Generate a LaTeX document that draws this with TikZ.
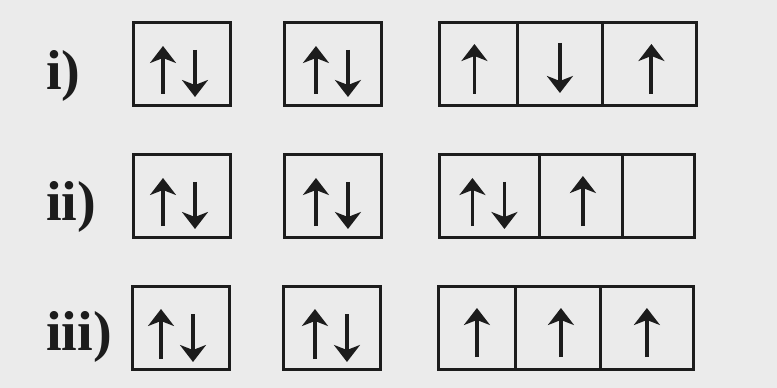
\documentclass[tikz,border=0pt]{standalone}
\usepackage{fontspec}
\setmainfont{Liberation Serif}
\usepackage{tikz}
\usetikzlibrary{positioning, arrows.meta, calc}

\definecolor{paper}{HTML}{EBEBEB}
\definecolor{ink}{HTML}{1C1C1C}

\begin{document}
\begin{tikzpicture}[
			x=0.02cm, y=-0.02cm,
			node distance=0pt and 1.08cm,
			orbital/.style={rectangle, draw=ink, line width=1.8pt, minimum width=1.94cm, minimum height=1.66cm, inner sep=0pt, outer sep=0pt},
			cell/.style={orbital, minimum width=#1},
			spin/.style={draw=ink, line width=2.2pt, -{Stealth[length=0.34cm, width=0.52cm, inset=0.1cm]}},
			rowlabel/.style={anchor=base west, text=ink, font=\fontsize{32}{38}\selectfont\bfseries}
			]
			
			% Background
			\fill[paper] (0,0) rectangle (777,388);
			
			% Labels
			\node[rowlabel] (l1) at (40,90) {i)};
			\node[rowlabel] (l2) at (40,220) {ii)};
			\node[rowlabel] (l3) at (40,350) {iii)};
			
			% Row i
			\node[orbital] (a1) at (182,64) {};
			\node[orbital, right=of a1] (b1) {};
			\node[cell=1.56cm, right=1.16cm of b1] (c1) {};
			\node[cell=1.7cm, right=0pt of c1] (d1) {};
			\node[cell=1.88cm, right=0pt of d1] (e1) {};
			
			% Row ii
			\node[orbital] (a2) at (182,196) {};
			\node[orbital, right=of a2] (b2) {};
			\node[cell=2cm, right=1.16cm of b2] (c2) {};
			\node[cell=1.66cm, right=0pt of c2] (d2) {};
			\node[cell=1.44cm, right=0pt of d2] (e2) {};
			
			% Row iii
			\node[orbital] (a3) at (181,328) {};
			\node[orbital, right=of a3] (b3) {};
			\node[cell=1.54cm, right=1.16cm of b3] (c3) {};
			\node[cell=1.7cm, right=0pt of c3] (d3) {};
			\node[cell=1.86cm, right=0pt of d3] (e3) {};
			
			% Spins, row i
			\draw[spin] ($(a1)+(-19,30)$) -- ($(a1)+(-19,-18)$);
			\draw[spin] ($(a1)+(13,-14)$) -- ($(a1)+(13,33)$);
			\draw[spin] ($(b1)+(-17,30)$) -- ($(b1)+(-17,-18)$);
			\draw[spin] ($(b1)+(15,-14)$) -- ($(b1)+(15,33)$);
			\draw[spin] ($(c1)+(-4,30)$) -- ($(c1)+(-4,-20)$);
			\draw[spin] ($(d1)+(0,-21)$) -- ($(d1)+(0,29)$);
			\draw[spin] ($(e1)+(2,30)$) -- ($(e1)+(2,-20)$);
			
			% Spins, row ii
			\draw[spin] ($(a2)+(-19,30)$) -- ($(a2)+(-19,-18)$);
			\draw[spin] ($(a2)+(13,-14)$) -- ($(a2)+(13,33)$);
			\draw[spin] ($(b2)+(-17,30)$) -- ($(b2)+(-17,-18)$);
			\draw[spin] ($(b2)+(15,-14)$) -- ($(b2)+(15,33)$);
			\draw[spin] ($(c2)+(-17,30)$) -- ($(c2)+(-17,-18)$);
			\draw[spin] ($(c2)+(15,-14)$) -- ($(c2)+(15,33)$);
			\draw[spin] ($(d2)+(2,30)$) -- ($(d2)+(2,-20)$);
			
			% Spins, row iii
			\draw[spin] ($(a3)+(-20,31)$) -- ($(a3)+(-20,-19)$);
			\draw[spin] ($(a3)+(12,-14)$) -- ($(a3)+(12,34)$);
			\draw[spin] ($(b3)+(-17,31)$) -- ($(b3)+(-17,-19)$);
			\draw[spin] ($(b3)+(15,-14)$) -- ($(b3)+(15,34)$);
			\draw[spin] ($(c3)+(0,29)$) -- ($(c3)+(0,-20)$);
			\draw[spin] ($(d3)+(3,29)$) -- ($(d3)+(3,-20)$);
			\draw[spin] ($(e3)+(0,29)$) -- ($(e3)+(0,-20)$);
			
		\end{tikzpicture}
\end{document}
